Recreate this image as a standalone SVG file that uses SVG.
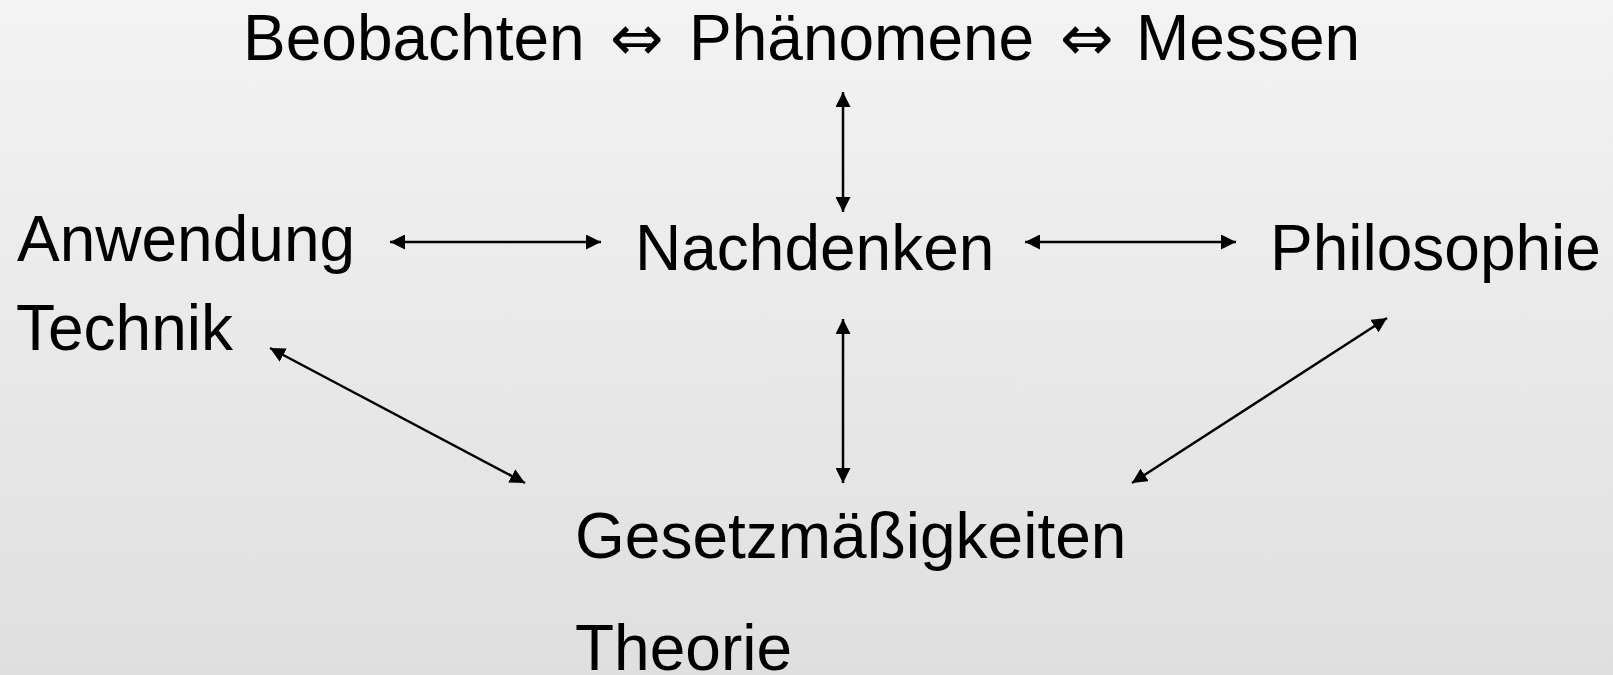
<svg xmlns="http://www.w3.org/2000/svg" width="1613" height="675" viewBox="0 0 1613 675">
  <defs>
    <linearGradient id="bg" x1="0" y1="0" x2="0" y2="1">
      <stop offset="0" stop-color="#f3f3f3"/>
      <stop offset="1" stop-color="#dfdfdf"/>
    </linearGradient>
    <marker id="head" viewBox="0 0 15 15" refX="15" refY="7.5" markerWidth="15" markerHeight="15" markerUnits="userSpaceOnUse" orient="auto-start-reverse">
      <path d="M0,0 L15,7.5 L0,15 Z" fill="#000"/>
    </marker>
  </defs>
  <style>
    .lbl { font-family: "Liberation Sans", Arial, "DejaVu Sans", sans-serif; font-size: 64px; fill: #000; }
    .sym { font-family: "DejaVu Sans", sans-serif; font-size: 64px; }
    .link { stroke: #000; stroke-width: 2.5; fill: none; marker-start: url(#head); marker-end: url(#head); }
  </style>

  <rect width="1613" height="675" fill="url(#bg)"/>

  <g id="observe">
    <text class="lbl" y="60"><tspan x="243">Beobachten</tspan><tspan class="sym" x="610">⇔</tspan><tspan x="689">Phänomene</tspan><tspan class="sym" x="1060">⇔</tspan><tspan x="1136">Messen</tspan></text>
  </g>

  <g id="application">
    <text class="lbl" x="17" y="261">Anwendung</text>
    <text class="lbl" x="16" y="350">Technik</text>
  </g>

  <g id="reflection">
    <text class="lbl" x="635" y="270">Nachdenken</text>
  </g>

  <g id="philosophy">
    <text class="lbl" x="1270" y="270">Philosophie</text>
  </g>

  <g id="theory">
    <text class="lbl" x="575" y="558">Gesetzmäßigkeiten</text>
    <text class="lbl" x="575" y="670">Theorie</text>
  </g>

  <g id="connectors">
    <path class="link" d="M843,92 L843,212"/>
    <path class="link" d="M390,242 L601,242"/>
    <path class="link" d="M1025,242 L1236,242"/>
    <path class="link" d="M843,319 L843,483"/>
    <path class="link" d="M270,348 L525,483"/>
    <path class="link" d="M1387,318 L1132,483"/>
  </g>
</svg>
